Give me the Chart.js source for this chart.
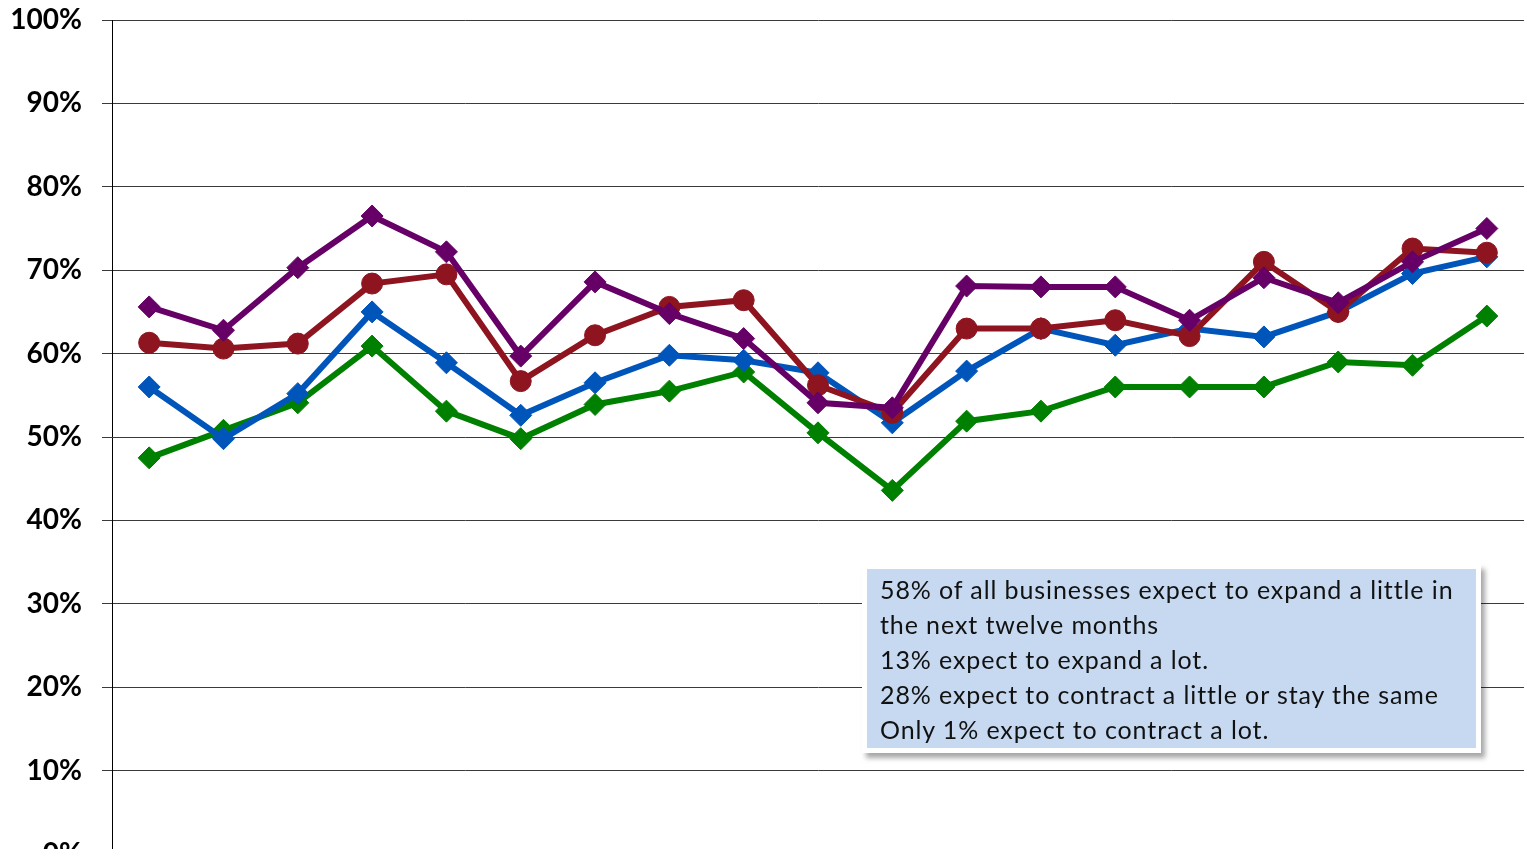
<!DOCTYPE html>
<html>
<head>
<meta charset="utf-8">
<title>Business expansion expectations</title>
<script src="https://cdn.jsdelivr.net/npm/chart.js@4.4.1/dist/chart.umd.min.js"></script>
<style>
  html, body { margin: 0; padding: 0; background: #fff; overflow: hidden; }
  #wrap { position: relative; width: 1528px; height: 849px; overflow: hidden; }
  #chart { position: absolute; left: 0; top: 0; }
  #note {
    position: absolute;
    left: 862px; top: 564px;
    width: 596px; height: 176px;
    padding: 3px 0 0 13px;
    background: #c6d9f1;
    border: 5px solid #fff;
    box-shadow: 4px 5px 5px rgba(0,0,0,0.35);
    font-family: Lato, "Open Sans", sans-serif;
    font-size: 25px;
    letter-spacing: 0.9px;
    line-height: 35px;
    color: #111;
    white-space: nowrap;
  }
</style>
</head>
<body>
<div id="wrap">
  <canvas id="chart" width="1536" height="880"></canvas>
  <div id="note">
    58% of all businesses expect to expand a little in<br>
    the next twelve months<br>
    13% expect to expand a lot.<br>
    28% expect to contract a little or stay the same<br>
    Only 1% expect to contract a lot.
  </div>
</div>
<script>
// survey waves (not labelled on the axis)
const waves = ['1','2','3','4','5','6','7','8','9','10','11','12','13','14','15','16','17','18','19'];

// % of businesses, one series per line
const purpleSeries = [65.6, 62.8, 70.3, 76.5, 72.2, 59.7, 68.6, 64.8, 61.8, 54.1, 53.5, 68.1, 68.0, 68.0, 64.0, 69.1, 66.1, 71.0, 75.0];
const redSeries    = [61.3, 60.6, 61.2, 68.4, 69.5, 56.7, 62.2, 65.6, 66.4, 56.2, 52.9, 63.0, 63.0, 64.0, 62.1, 71.0, 65.0, 72.6, 72.1];
const blueSeries   = [56.0, 49.8, 55.2, 65.0, 58.9, 52.6, 56.5, 59.8, 59.2, 57.7, 51.7, 57.9, 63.0, 61.0, 63.0, 62.0, 65.0, 69.6, 71.6];
const greenSeries  = [47.5, 50.8, 54.1, 60.9, 53.1, 49.8, 53.9, 55.5, 57.8, 50.5, 43.6, 51.9, 53.1, 56.0, 56.0, 56.0, 59.0, 58.6, 64.5];

const yTicks = [0, 10, 20, 30, 40, 50, 60, 70, 80, 90, 100];

function lineSet(data, color, shape, radius){
  return {
    data,
    borderColor: color,
    backgroundColor: color,
    borderWidth: 6,
    pointStyle: shape,
    pointRadius: radius,
    pointHoverRadius: radius,
    pointBorderWidth: 1,
    pointBackgroundColor: color,
    pointBorderColor: color,
    tension: 0
  };
}

// keep the plot box fixed: 112px axis on the left, no extra label padding
function fixAxis(s){
  s.width = 112;
  s.paddingTop = 0;
  s.paddingBottom = 0;
  s.paddingLeft = 0;
  s.paddingRight = 0;
}

const ctx = document.getElementById('chart').getContext('2d');
new Chart(ctx, {
  type: 'line',
  data: {
    labels: waves,
    // dataset 0 is painted last, so purple sits on top
    datasets: [
      lineSet(purpleSeries, '#660066', 'rectRot', 11),
      lineSet(redSeries, '#8e1420', 'circle', 10.5),
      lineSet(blueSeries, '#0055bb', 'rectRot', 11),
      lineSet(greenSeries, '#008000', 'rectRot', 11)
    ]
  },
  options: {
    responsive: false,
    animation: false,
    devicePixelRatio: 1,
    layout: { padding: { top: 20, right: 3, bottom: 26, left: 0 } },
    plugins: { legend: { display: false }, tooltip: { enabled: false } },
    scales: {
      x: {
        display: false,
        offset: true
      },
      y: {
        min: 0,
        max: 100,
        afterBuildTicks: s => { s.ticks = yTicks.map(v => ({ value: v })); },
        afterFit: fixAxis,
        border: { display: true, color: '#000', width: 1 },
        grid: { color: '#3a3a3a', lineWidth: 1, tickLength: 10, drawTicks: true },
        ticks: {
          padding: 20,
          color: '#000',
          font: { family: 'Lato, "Open Sans", sans-serif', size: 28, weight: 'bold' },
          callback: v => v + '%'
        }
      }
    }
  }
});
</script>
</body>
</html>
